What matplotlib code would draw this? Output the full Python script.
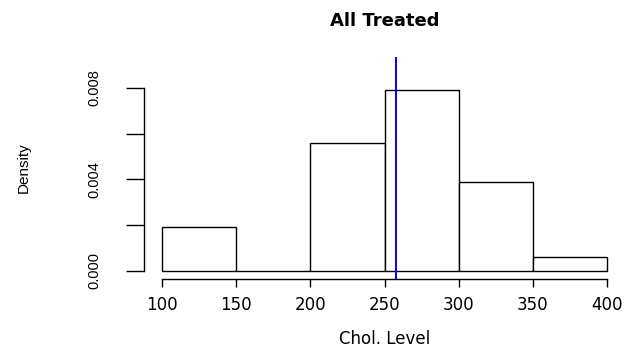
import matplotlib
matplotlib.use("Agg")
import matplotlib.pyplot as plt
import numpy as np

breaks = [100, 150, 200, 250, 300, 350, 400]
density = [0.0019, 0.0, 0.0056, 0.0079, 0.0039, 0.0006]
mean_chol = 258
xticks = [100, 150, 200, 250, 300, 350, 400]
yticks = [0.000, 0.002, 0.004, 0.006, 0.008]
ytick_labels = ["0.000", "", "0.004", "", "0.008"]
title = "All Treated"
xlabel = "Chol. Level"
ylabel = "Density"

W, H = 633, 349
fig = plt.figure(figsize=(W / 100, H / 100), dpi=100)
ax = fig.add_axes([144.2 / W, 1 - 279 / H, (624.8 - 144.2) / W, (279 - 57) / H])

left = np.array(breaks[:-1])
widths = np.diff(breaks)
ax.bar(left, density, width=widths, align="edge", facecolor="white",
       edgecolor="black", linewidth=1.0)
ax.axvline(mean_chol, color="#0000ff", linewidth=1.4)

ax.set_xlim(88, 412)
ax.set_ylim(-0.00036, 0.00936)

for s in ["top", "right"]:
    ax.spines[s].set_visible(False)
ax.spines["left"].set_bounds(0, 0.008)
ax.spines["bottom"].set_bounds(100, 400)
ax.spines["left"].set_linewidth(1.0)
ax.spines["bottom"].set_linewidth(1.0)

ax.set_xticks(xticks)
ax.set_xticklabels([str(v) for v in xticks], fontsize=12, family="DejaVu Sans")
ax.set_yticks(yticks)
ax.set_yticklabels(ytick_labels, fontsize=10.5, family="Liberation Sans",
                   rotation=90, va="center")
ax.tick_params(axis="x", length=5.5, width=1.0, pad=7)
ax.tick_params(axis="y", length=12.7, width=1.0, pad=18)

fig.text(385 / W, 1 - 21 / H, title, ha="center", va="center",
         fontsize=13, fontweight="bold", family="DejaVu Sans")
fig.text(385 / W, 1 - 339 / H, xlabel, ha="center", va="center",
         fontsize=12, family="DejaVu Sans")
fig.text(24 / W, 1 - 168 / H, ylabel, ha="center", va="center",
         fontsize=11, family="Liberation Sans", rotation=90)

fig.savefig("out.png", dpi=100, facecolor="white")
